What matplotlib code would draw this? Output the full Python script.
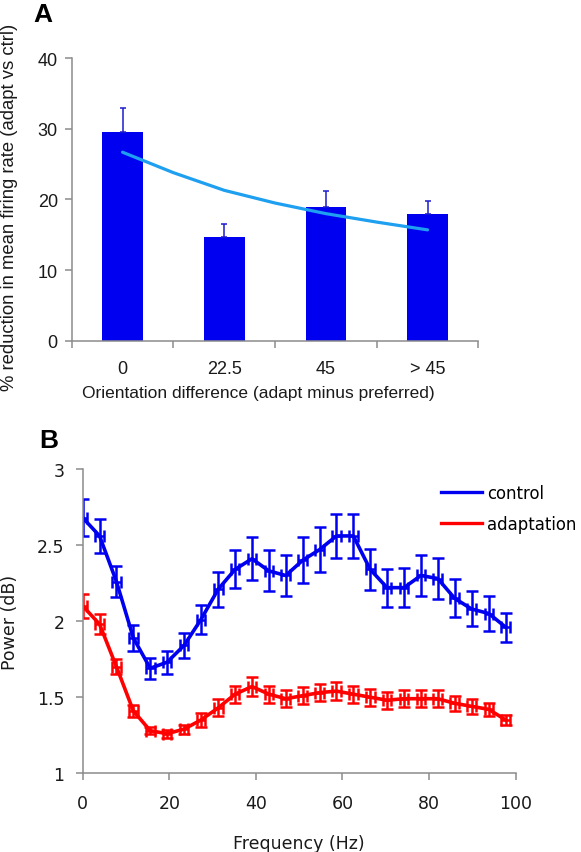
import numpy as np
import matplotlib
matplotlib.use("Agg")
import matplotlib.pyplot as plt

plt.rcParams["font.family"] = ["Liberation Sans", "DejaVu Sans"]

# panel A
orient_labels = ["0", "22.5", "45", "> 45"]
reduction = [29.6, 14.7, 19.0, 18.0]
reduction_err = [3.3, 1.85, 2.25, 1.75]
fit_x = [0, 0.5, 1, 1.5, 2, 2.5, 3]
fit_y = [26.7, 23.8, 21.3, 19.5, 18.0, 16.8, 15.7]

# panel B
freq = [0, 3.9, 7.8, 11.7, 15.6, 19.5, 23.4, 27.3, 31.3, 35.2, 39.1, 43.0, 46.9,
        50.8, 54.7, 58.6, 62.5, 66.4, 70.3, 74.2, 78.1, 82.0, 85.9, 89.8, 93.8, 97.7]
control = [2.68, 2.56, 2.26, 1.89, 1.69, 1.73, 1.84, 2.01, 2.21, 2.34, 2.41, 2.33, 2.30,
           2.40, 2.47, 2.56, 2.56, 2.34, 2.22, 2.22, 2.30, 2.28, 2.15, 2.08, 2.05, 1.96]
control_err = [0.12, 0.11, 0.10, 0.085, 0.07, 0.075, 0.085, 0.095, 0.115, 0.125, 0.14, 0.135, 0.135,
               0.15, 0.15, 0.145, 0.145, 0.135, 0.125, 0.13, 0.135, 0.135, 0.125, 0.115, 0.115, 0.095]
adapt = [2.10, 1.98, 1.70, 1.41, 1.28, 1.26, 1.29, 1.35, 1.43, 1.52, 1.57, 1.52, 1.49,
         1.51, 1.53, 1.54, 1.52, 1.50, 1.48, 1.49, 1.49, 1.49, 1.46, 1.44, 1.42, 1.35]
adapt_err = [0.08, 0.065, 0.05, 0.04, 0.025, 0.025, 0.03, 0.045, 0.055, 0.055, 0.06, 0.055, 0.055,
             0.055, 0.055, 0.06, 0.055, 0.055, 0.055, 0.055, 0.055, 0.055, 0.05, 0.05, 0.045, 0.03]

spine_col = "#8c8c8c"
txt_col = "#1a1a1a"
fontB = ["DejaVu Sans"]

fig = plt.figure(figsize=(5.81, 8.53), dpi=100)


def style(ax):
    for s in ["top", "right"]:
        ax.spines[s].set_visible(False)
    for s in ["left", "bottom"]:
        ax.spines[s].set_color(spine_col)
        ax.spines[s].set_linewidth(1.1)
    ax.tick_params(colors=spine_col, labelcolor=txt_col, length=5, width=1.1)


# ---- A ----
axA = fig.add_axes([0.1234, 0.5994, 0.700, 0.3311])
x = np.arange(len(reduction))
axA.bar(x, reduction, width=0.4, color="#0000f0", zorder=2)
axA.errorbar(x, reduction, yerr=[np.zeros(4), reduction_err], fmt="none",
             ecolor="#1c1ccc", elinewidth=1.1, capsize=2.3, capthick=1.1, zorder=3)
axA.plot(fit_x, fit_y, color="#1e9ff0", lw=2.3, zorder=4, solid_capstyle="round")
axA.set_xlim(-0.5, 3.5)
axA.set_ylim(0, 40)
axA.set_yticks([0, 10, 20, 30, 40])
axA.set_xticks([-0.5, 0.5, 1.5, 2.5, 3.5])
axA.set_xticklabels([])
axA.tick_params(axis="y", labelsize=13, pad=5)
style(axA)
for i, lab in enumerate(orient_labels):
    axA.text(i, -4, lab, ha="center", va="center", fontsize=13, color=txt_col)
axA.text(1.34, -7.3, "Orientation difference (adapt minus preferred)",
         ha="center", va="center", fontsize=12.5, color=txt_col)
axA.set_ylabel("% reduction in mean firing rate (adapt vs ctrl)", fontsize=13.3,
               color=txt_col)
axA.yaxis.set_label_coords(-0.132, 0.475)
fig.text(0.057, 0.997, "A", fontsize=19, fontweight="bold", ha="left", va="top")

# ---- B ----
axB = fig.add_axes([0.1423, 0.0923, 0.7453, 0.3567])
eb = dict(elinewidth=1.8, capsize=4, capthick=1.8, xerr=1.0)
axB.errorbar(freq, control, yerr=control_err, color="#0000f0", lw=2.6,
             label="control", **eb)
axB.errorbar(freq, adapt, yerr=adapt_err, color="#ff0000", lw=2.6,
             label="adaptation", **eb)
axB.set_xlim(0, 100)
axB.set_ylim(1, 3)
axB.set_xticks([0, 20, 40, 60, 80, 100])
axB.set_yticks([1, 1.5, 2, 2.5, 3])
axB.set_yticklabels(["1", "1.5", "2", "2.5", "3"])
style(axB)
axB.tick_params(labelsize=12.5)
axB.tick_params(axis="x", pad=10)
axB.tick_params(axis="y", pad=8)
for t in axB.get_xticklabels() + axB.get_yticklabels():
    t.set_family(fontB)
axB.set_xlabel("Frequency (Hz)", fontsize=12.5, color=txt_col, labelpad=16, family=fontB)
axB.set_ylabel("Power (dB)", fontsize=12.5, color=txt_col, family=fontB)
axB.yaxis.set_label_coords(-0.148, 0.5)
l = ["control", "adaptation"]
h = [plt.Line2D([], [], color=c, lw=2.4) for c in ["#0000f0", "#ff0000"]]
fig.legend(h, l, loc="upper left", bbox_to_anchor=(0.759, 0.432), frameon=False,
           prop={"family": fontB, "size": 11.9}, handlelength=2.5,
           handletextpad=0.3, labelspacing=0.8, borderpad=0, borderaxespad=0)
fig.text(0.068, 0.497, "B", fontsize=19, fontweight="bold", ha="left", va="top")

fig.savefig("out.png", dpi=100)
